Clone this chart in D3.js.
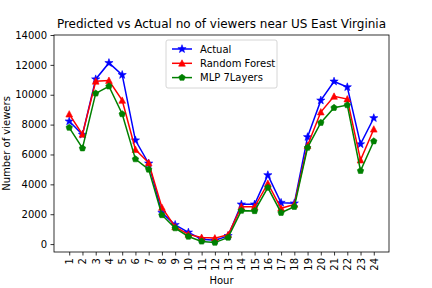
<!DOCTYPE html>
<html>
<head>
<meta charset="utf-8">
<script src="https://cdn.jsdelivr.net/npm/d3@7"></script>
<style>
  body { margin: 0; background: #fff; }
  text { font-family: "DejaVu Sans", sans-serif; fill: #000; }
</style>
</head>
<body>
<svg id="chart" width="432" height="288"></svg>
<script>
// hours on the x axis
var hours = d3.range(1, 25);
var yTicks = [0, 2000, 4000, 6000, 8000, 10000, 12000, 14000];

// values
var actual = [8220, 7330, 11040, 12130, 11330, 6950, 5400, 2100, 1290, 780, 330, 250,
              550, 2660, 2660, 4620, 2770, 2730, 7170, 9620, 10890, 10510, 6690, 8440];
var randomForest = [8700, 7350, 10900, 10950, 9620, 6330, 5440, 2450, 1150, 650, 440, 400,
                    620, 2500, 2500, 4060, 2400, 2660, 6600, 8840, 9890, 9710, 5620, 7690];
var mlp = [7800, 6420, 10090, 10570, 8710, 5690, 5000, 1950, 1070, 510, 180, 100,
           440, 2240, 2220, 3780, 2100, 2500, 6460, 8130, 9130, 9310, 4910, 6890];

var series = [
  {name: "Actual", values: actual, color: "#0000ff", marker: "star"},
  {name: "Random Forest", values: randomForest, color: "#ff0000", marker: "triangle"},
  {name: "MLP 7Layers", values: mlp, color: "#008000", marker: "pentagon"}
];

var margin = {top: 35, right: 43, bottom: 36, left: 54},
    width = 432 - margin.left - margin.right,
    height = 288 - margin.top - margin.bottom;

var svg = d3.select("#chart");
var g = svg.append("g")
  .attr("transform", "translate(" + margin.left + "," + margin.top + ")");

var x = d3.scaleLinear()
  .domain([1 - 1.15, 24 + 1.15])
  .range([0, width]);

var y = d3.scaleLinear()
  .domain([-530, 14000])
  .range([height, 0]);

// marker shapes, roughly like matplotlib's *, ^ and p
function markerPath(type, r) {
  var pts = [];
  if (type == "star") {
    for (var i = 0; i < 10; i++) {
      var a = -Math.PI / 2 + i * Math.PI / 5;
      var rr = i % 2 == 0 ? r * 1.35 : r * 0.55;
      pts.push([rr * Math.cos(a), rr * Math.sin(a)]);
    }
  } else if (type == "triangle") {
    pts = [[0, -r * 1.1], [-r * 1.05, r * 0.9], [r * 1.05, r * 0.9]];
  } else {
    for (var j = 0; j < 5; j++) {
      var b = -Math.PI / 2 + j * 2 * Math.PI / 5;
      pts.push([r * 1.05 * Math.cos(b), r * 1.05 * Math.sin(b)]);
    }
  }
  return "M" + pts.map(function(p) { return p[0].toFixed(2) + "," + p[1].toFixed(2); }).join("L") + "Z";
}

// x axis
var xAxis = g.append("g")
  .attr("transform", "translate(0," + height + ")")
  .call(d3.axisBottom(x).tickValues(hours).tickSize(3.5).tickPadding(3.5).tickFormat(d3.format("d")));
xAxis.selectAll("text")
  .attr("transform", "rotate(-90)")
  .attr("x", -6)
  .attr("y", 0)
  .attr("dy", "0.35em")
  .style("text-anchor", "end")
  .style("font-size", "10px");

// y axis
var yAxis = g.append("g")
  .call(d3.axisLeft(y).tickValues(yTicks).tickSize(3.5).tickPadding(3.5).tickFormat(d3.format("d")));
yAxis.selectAll("text").style("font-size", "10px");

svg.selectAll(".domain").remove();
svg.selectAll(".tick line").attr("stroke", "#000").attr("stroke-width", 0.8);

// frame
g.append("rect")
  .attr("width", width)
  .attr("height", height)
  .attr("fill", "none")
  .attr("stroke", "#000")
  .attr("stroke-width", 0.8);

// lines and markers
var line = d3.line()
  .x(function(d, i) { return x(hours[i]); })
  .y(function(d) { return y(d); });

series.forEach(function(s) {
  g.append("path")
    .datum(s.values)
    .attr("d", line)
    .attr("fill", "none")
    .attr("stroke", s.color)
    .attr("stroke-width", 1.5);

  g.append("g")
    .selectAll("path")
    .data(s.values)
    .join("path")
    .attr("transform", function(d, i) { return "translate(" + x(hours[i]) + "," + y(d) + ")"; })
    .attr("d", markerPath(s.marker, 3.2))
    .attr("fill", s.color)
    .attr("stroke", s.color)
    .attr("stroke-width", 0.6);
});

// title and axis labels
svg.append("text")
  .attr("x", margin.left + width / 2)
  .attr("y", 28)
  .style("text-anchor", "middle")
  .style("font-size", "12px")
  .text("Predicted vs Actual no of viewers near US East Virginia");

svg.append("text")
  .attr("x", margin.left + width / 2)
  .attr("y", 284)
  .style("text-anchor", "middle")
  .style("font-size", "10px")
  .text("Hour");

svg.append("text")
  .attr("transform", "translate(10," + (margin.top + height / 2) + ") rotate(-90)")
  .style("text-anchor", "middle")
  .style("font-size", "10px")
  .text("Number of viewers");

// legend
var legend = svg.append("g").attr("transform", "translate(166,40)");
legend.append("rect")
  .attr("width", 111)
  .attr("height", 48)
  .attr("rx", 2)
  .attr("fill", "#fff")
  .attr("fill-opacity", 0.8)
  .attr("stroke", "#cccccc")
  .attr("stroke-width", 0.8);

series.forEach(function(s, i) {
  var ly = 9 + i * 14.3;
  legend.append("line")
    .attr("x1", 6).attr("x2", 26)
    .attr("y1", ly).attr("y2", ly)
    .attr("stroke", s.color)
    .attr("stroke-width", 1.5);
  legend.append("path")
    .attr("transform", "translate(16," + ly + ")")
    .attr("d", markerPath(s.marker, 3.2))
    .attr("fill", s.color)
    .attr("stroke", s.color)
    .attr("stroke-width", 0.6);
  legend.append("text")
    .attr("x", 34)
    .attr("y", ly)
    .attr("dy", "0.35em")
    .style("font-size", "10px")
    .text(s.name);
});
</script>
</body>
</html>
